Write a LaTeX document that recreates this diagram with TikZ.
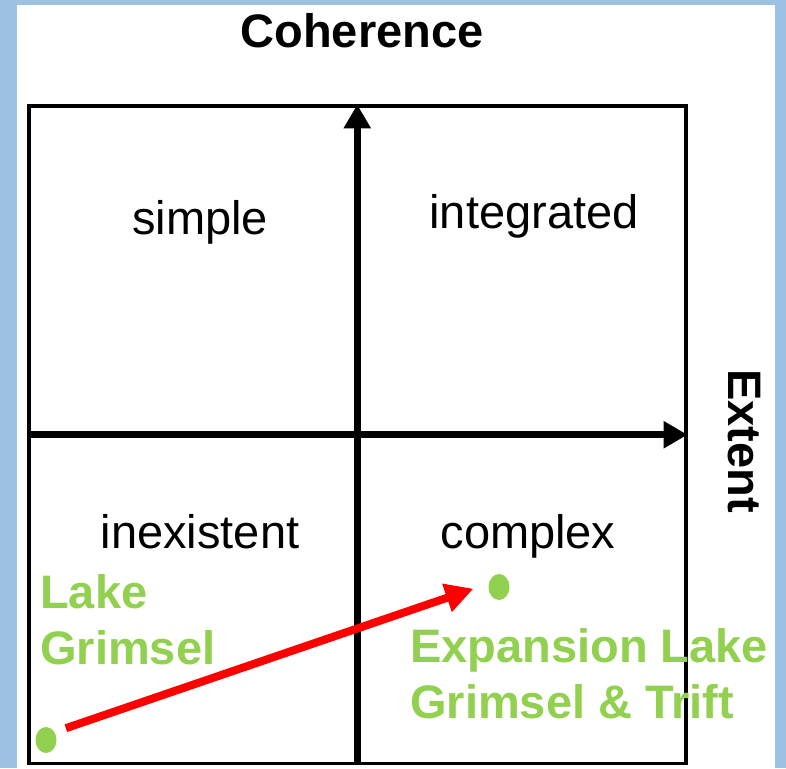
\documentclass[tikz,border=0pt]{standalone}
\usepackage{fontspec}
\setmainfont{Liberation Sans}
\usetikzlibrary{arrows.meta, shapes.geometric}
\definecolor{frameblue}{RGB}{157,193,227}
\definecolor{lakegreen}{RGB}{146,208,80}

\begin{document}
\begin{tikzpicture}[x=1pt,y=1pt]
\tikzset{
    quad style/.style={font=\fontsize{47}{56}\selectfont, inner sep=0pt, anchor=base},
    title style/.style={font=\fontsize{47}{56}\selectfont\bfseries, inner sep=0pt},
    axis style/.style={line width=7pt, -{Triangle[width=26pt,length=24pt]}},
    place style/.style={title style, text=lakegreen, align=left, anchor=base west},
    dot style/.style={ellipse, fill=lakegreen, minimum width=21pt, minimum height=26pt, inner sep=0pt}
}
  \useasboundingbox (0,0) rectangle (786,768);
  \fill[frameblue] (0,0) rectangle (786,768);
  \fill[white] (17,0) rectangle (775,763);

  % quadrants and axes
  \node[draw, line width=3.5pt, minimum size=657pt, inner sep=0pt, anchor=south west] (box) at (27,3) {};
  \draw[axis style] (box.south) -- (box.north);
  \draw[axis style] (box.west) -- (box.east);

  \node[title style, anchor=base] (coherence) at (362,720) {Coherence};
  \node[title style, rotate=-90] (extent) at (744,327) {Extent};

  \node[quad style] (simple) at (200,533) {simple};
  \node[quad style] (integrated) at (534,539) {integrated};
  \node[quad style] (inexistent) at (200,219) {inexistent};
  \node[quad style] (complex) at (528,219) {complex};

  % the two projects (base = last line)
  \node[dot style] (grimsel) at (46,28) {};
  \node[dot style] (expansion) at (499,181) {};
  \node[place style] (lakelabel) at (40,104) {Lake\\Grimsel};
  \node[place style] (explabel) at (410,50) {Expansion Lake\\Grimsel \& Trift};

  \draw[red, line width=8pt, -{Triangle[width=28pt,length=28pt]}, shorten <=21pt, shorten >=27pt]
    ([yshift=5pt]grimsel.center) -- ([yshift=7pt]expansion.center);
\end{tikzpicture}
\end{document}
